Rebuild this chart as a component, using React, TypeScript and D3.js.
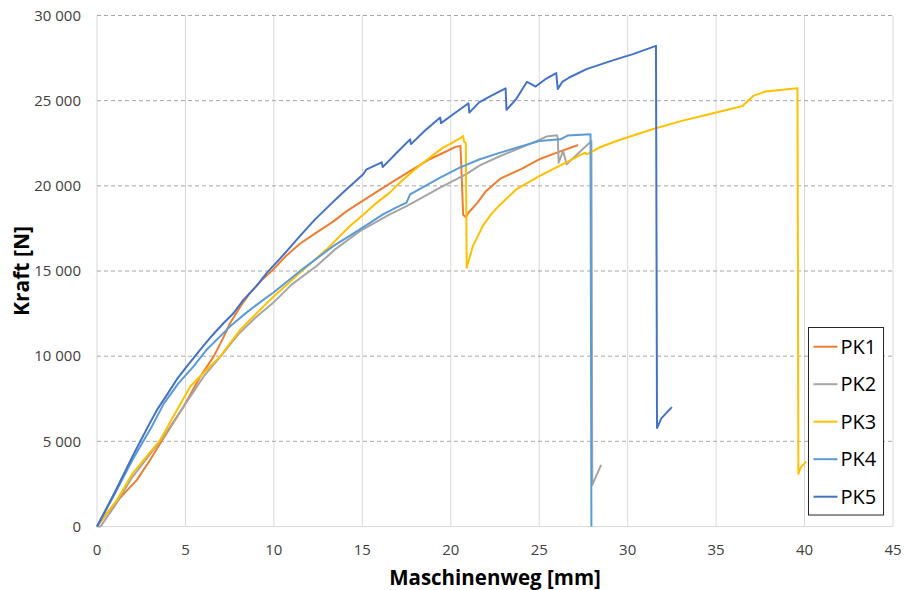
import React from "react"
import * as d3 from "d3"

const width = 904
const height = 590
const margin = { top: 15.5, right: 11, bottom: 63.5, left: 97 }

// Maschinenweg [mm], Kraft [N]
const pk1: [number, number][] = [
  [0, 0], [0.5, 700], [1, 1300], [1.5, 1900], [2.26, 2740], [3, 3900], [3.58, 4890],
  [4.2, 5900], [4.9, 7050], [5.84, 8810], [6.6, 9990], [7.1, 11000], [7.53, 11950], [8.1, 12900],
  [8.64, 13700], [9.3, 14450], [9.96, 15090], [10.7, 15900], [11.47, 16600], [12.4, 17250],
  [13.35, 17900], [14.1, 18500], [14.86, 19010], [15.9, 19700], [16.93, 20380], [17.9, 21000],
  [18.8, 21560], [19.5, 21900], [20.3, 22300], [20.55, 22340],
  [20.7, 18300], [20.85, 18150], [21.0, 18420], [21.5, 19000], [22.0, 19700],
  [22.8, 20420], [24, 21000], [25, 21560], [26, 21950], [27.2, 22400],
]
const pk2: [number, number][] = [
  [0, 0], [0.2, 0], [1, 1200], [2, 2900], [3.77, 5280], [5, 7200], [6.03, 8810],
  [7, 10000], [8, 11300], [9, 12300], [9.96, 13130], [11, 14200], [12.41, 15290],
  [13.5, 16300], [14.86, 17340], [16.55, 18320], [17.5, 18810], [19.4, 19890],
  [20.9, 20700], [21.64, 21200], [22.8, 21750], [24.65, 22540], [25.4, 22890],
  [26.0, 22970], [26.05, 22800], [26.1, 21360], [26.35, 22050], [26.55, 21270],
  [27.95, 22630], [28.0, 2440], [28.5, 3620],
]
const pk3: [number, number][] = [
  [0, 0], [0.5, 700], [1.13, 1560], [2, 3100], [3.58, 5090], [4.5, 6800], [5.27, 8220],
  [6.2, 9200], [6.97, 9990], [8.1, 11560], [9.8, 13320], [11.47, 14890], [12.98, 16270],
  [14.3, 17640], [15.05, 18300], [15.8, 19000], [16.55, 19600], [16.93, 20000], [17.9, 20900],
  [18.8, 21650], [19.5, 22200], [20.6, 22830], [20.7, 22930], [20.75, 22600],
  [20.85, 22500], [20.9, 15190], [21.25, 16460], [21.8, 17630], [22.3, 18350], [22.8, 18910],
  [23.7, 19790], [25.0, 20570], [26.5, 21360], [27.6, 21950], [27.7, 21850],
  [28.4, 22250], [29.4, 22650], [31.4, 23320], [33, 23800], [35, 24300], [36.5, 24690],
  [36.8, 25000], [37.1, 25280], [37.8, 25540], [39.6, 25730], [39.65, 3090], [39.8, 3500], [40.1, 3810],
]
const pk4: [number, number][] = [
  [0, 0], [1, 1900], [2, 3900], [3.1, 5870], [3.77, 7200], [4.6, 8400], [5.46, 9400], [6.2, 10380],
  [7.53, 11750], [8.5, 12600], [9.42, 13320], [9.96, 13720], [11.47, 14990],
  [13.35, 16460], [14.86, 17440], [16.17, 18320], [16.9, 18720], [17.5, 19010],
  [17.7, 19500], [19.4, 20480], [20.5, 21070], [21.64, 21560], [22.8, 21950],
  [25.0, 22630], [26.2, 22730], [26.6, 22950], [27.9, 23030], [27.95, 0],
]
const pk5: [number, number][] = [
  [0, 0], [1, 2000], [2, 4100], [2.45, 5000], [3, 6100], [3.4, 6860], [4, 7800], [4.5, 8620],
  [5, 9300], [5.84, 10380], [6.5, 11200], [7.16, 11950], [7.7, 12500], [8.29, 13320],
  [9, 14100], [9.6, 14890], [10.5, 15900], [11.47, 17050], [12.3, 18000], [13.2, 18910],
  [14, 19700], [15.05, 20680], [15.24, 20970], [16.1, 21380], [16.15, 21100], [17.0, 22000],
  [17.7, 22730], [17.75, 22450], [18.5, 23200], [19.4, 24010], [19.45, 23680],
  [20, 24100], [21.0, 24850], [21.05, 24300], [21.6, 24900], [22.3, 25300],
  [23.1, 25720], [23.15, 24460], [23.7, 25100], [24.3, 26100], [24.55, 25970],
  [24.8, 25830], [25.4, 26300], [25.96, 26620], [26.05, 25680], [26.3, 26100],
  [26.7, 26360], [27.67, 26850], [29.2, 27380], [30.3, 27730], [31.6, 28220],
  [31.66, 5780], [31.9, 6350], [32.5, 7010],
]

const seriesNames = ["PK1", "PK2", "PK3", "PK4", "PK5"]
const seriesData = [pk1, pk2, pk3, pk4, pk5]
const colors = ["#ED7D31", "#A5A5A5", "#FFC000", "#5B9BD5", "#4472C4"]
const xTicks = [0, 5, 10, 15, 20, 25, 30, 35, 40, 45]
const yTicks = [0, 5000, 10000, 15000, 20000, 25000, 30000]

const font = "'Open Sans', sans-serif"

export default function App() {
  const x = d3.scaleLinear().domain([0, 45]).range([margin.left, width - margin.right])
  const y = d3.scaleLinear().domain([0, 30000]).range([height - margin.bottom, margin.top])
  const line = d3.line<[number, number]>().x(d => x(d[0])).y(d => y(d[1]))
  const fmt = (v: number) => d3.format(",")(v).replace(/,/g, " ")

  return (
    <svg width={width} height={height} style={{ position: "absolute", left: 0, top: 0, background: "#fff" }}>
      {xTicks.map(t => (
        <line key={"vx" + t} x1={x(t)} x2={x(t)} y1={y(0)} y2={y(30000)} stroke="#d9d9d9" strokeWidth={1} />
      ))}
      {yTicks.filter(t => t > 0).map(t => (
        <line key={"hy" + t} x1={x(0)} x2={x(45)} y1={y(t)} y2={y(t)} stroke="#a6a6a6" strokeWidth={1} strokeDasharray="4,3" />
      ))}
      <line x1={x(0)} x2={x(45)} y1={y(0)} y2={y(0)} stroke="#d9d9d9" strokeWidth={1} />

      {yTicks.map(t => (
        <text key={"ty" + t} x={81} y={y(t)} dy="0.35em" textAnchor="end" fontFamily={font} fontSize={15} fill="#404040">
          {fmt(t)}
        </text>
      ))}
      {xTicks.map(t => (
        <text key={"tx" + t} x={x(t)} y={550} dy="0.35em" textAnchor="middle" fontFamily={font} fontSize={15} fill="#404040">
          {t}
        </text>
      ))}

      {seriesData.map((d, i) => (
        <path key={seriesNames[i]} d={line(d) || ""} fill="none" stroke={colors[i]} strokeWidth={2} strokeLinejoin="round" />
      ))}

      <text transform="translate(29,271) rotate(-90)" textAnchor="middle" fontFamily={font} fontWeight="bold" fontSize={21} fill="#000">
        Kraft [N]
      </text>
      <text x={495} y={585} textAnchor="middle" fontFamily={font} fontWeight="bold" fontSize={20.5} fill="#000">
        Maschinenweg [mm]
      </text>

      <g>
        <rect x={808.5} y={327.5} width={75} height={187.5} fill="#fff" stroke="#262626" strokeWidth={1} />
        {seriesNames.map((n, i) => {
          const cy = 346.7 + i * 37.5
          return (
            <g key={"lg" + n}>
              <line x1={813.5} x2={837.5} y1={cy} y2={cy} stroke={colors[i]} strokeWidth={2} />
              <text x={840.5} y={cy} dy="0.36em" fontFamily={font} fontSize={20} fill="#000">
                {n}
              </text>
            </g>
          )
        })}
      </g>
    </svg>
  )
}
